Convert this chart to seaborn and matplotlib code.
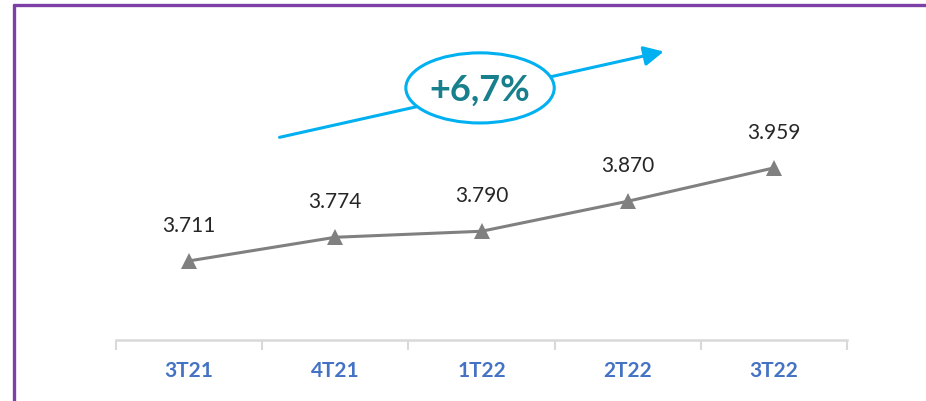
import matplotlib.pyplot as plt
import seaborn as sns
import pandas as pd
from matplotlib.patches import Ellipse
from matplotlib.lines import Line2D

quarters = ['3T21', '4T21', '1T22', '2T22', '3T22']
values = [3711, 3774, 3790, 3870, 3959]
value_labels = ['3.711', '3.774', '3.790', '3.870', '3.959']
growth_label = '+6,7%'

sns.set_theme(style='white')
plt.rcParams['font.family'] = ['Lato', 'DejaVu Sans']

df = pd.DataFrame({'quarter': quarters, 'value': values})

fig = plt.figure(figsize=(9.26, 4.01), dpi=100)
ax = fig.add_axes([116 / 926, 61 / 401, 731 / 926, 318.7 / 401])

sns.lineplot(data=df, x='quarter', y='value', ax=ax, color='#808080',
             linewidth=2.2, marker='^', markersize=11, markeredgewidth=0,
             sort=False)

for i, (v, lab) in enumerate(zip(values, value_labels)):
    ax.annotate(lab, (i, v), xytext=(0, 18), textcoords='offset points',
                ha='center', va='bottom', fontsize=15, color='#262626')

ax.set_xlim(-0.5, 4.5)
ax.set_ylim(3500, 4350)
ax.set_xlabel('')
ax.set_ylabel('')
ax.set_yticks([])
for side in ['top', 'right', 'left']:
    ax.spines[side].set_visible(False)
ax.spines['bottom'].set_color('#D9D9D9')
ax.spines['bottom'].set_linewidth(1.8)

# category boundaries as tick marks
ax.set_xticks([i - 0.5 for i in range(len(quarters) + 1)], minor=True)
ax.tick_params(axis='x', which='minor', length=7, width=1.5, color='#D9D9D9',
               bottom=True)
ax.tick_params(axis='x', which='major', length=0, pad=15)
for t in ax.get_xticklabels():
    t.set_fontweight('bold')
    t.set_fontsize(15)
    t.set_color('#4472C4')

# growth arrow with ellipse badge
ax.annotate('', xy=(0.753, 0.907), xytext=(0.220, 0.634),
            xycoords='axes fraction', textcoords='axes fraction',
            arrowprops=dict(arrowstyle='-|>,head_length=1.0,head_width=0.5',
                            color='#00B0F0', lw=2.2),
            annotation_clip=False)
ell = Ellipse((0.498, 0.791), 0.203, 0.22, transform=ax.transAxes,
              facecolor='white', edgecolor='#00B0F0', linewidth=2.2,
              zorder=5, clip_on=False)
ax.add_patch(ell)
ax.text(0.498, 0.785, growth_label, transform=ax.transAxes, ha='center',
        va='center', fontsize=26, fontweight='bold', color='#17808C', zorder=6)

# purple frame on the top and left edges
fig.add_artist(Line2D([14.5 / 926, 1], [1 - 4.5 / 401, 1 - 4.5 / 401],
                      color='#7B3FA6', linewidth=2.4))
fig.add_artist(Line2D([14.5 / 926, 14.5 / 926], [0, 1 - 4.5 / 401],
                      color='#7B3FA6', linewidth=2.4))

fig.savefig('out.png', dpi=100, facecolor='white')
